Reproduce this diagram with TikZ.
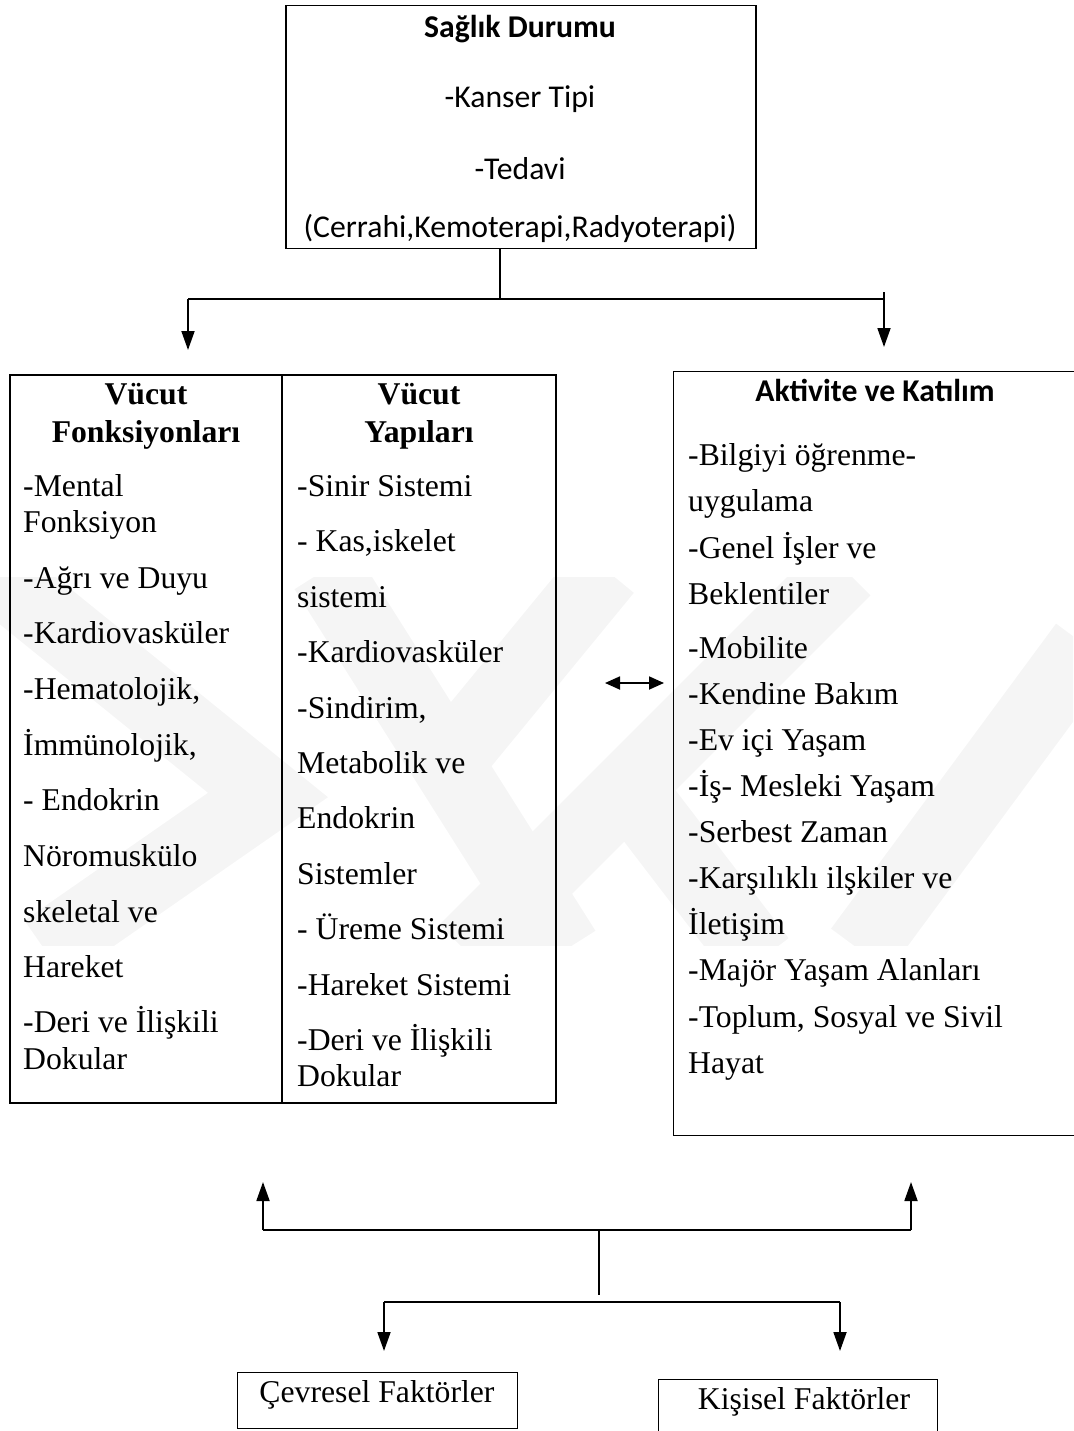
\documentclass[tikz,border=0pt]{standalone}
\usepackage{fontspec}
\setmainfont{Liberation Serif}
\newfontfamily\carlito{Carlito}
\usetikzlibrary{arrows.meta}
\newcommand\tsz{\fontsize{31.7}{36.5}\selectfont}
\tikzset{
  txt/.style={anchor=base west, inner sep=0pt, font=\tsz},
  ctxt/.style={anchor=base, inner sep=0pt, font=\tsz},
  cal/.style={anchor=base, inner sep=0pt, font=\tsz\carlito},
  boxframe/.style={draw, line width=1.5pt, anchor=north west, inner sep=0pt},
  conn/.style={line width=1.8pt},
  tip/.style={-{Triangle[length=19pt,width=13pt]}},
  wm/.style={line width=72pt, draw=black!4, line join=miter, line cap=butt},
}
\begin{document}
\begin{tikzpicture}[x=1pt,y=-1pt]
\useasboundingbox (0,0) rectangle (1073,1431);
% watermark
\begin{scope}
\clip (0,577) rectangle (1073,945);
\draw[wm] (-10,570) -- (268,795) -- (45,950);
\draw[wm] (325,570) -- (565,950);
\draw[wm] (845,570) -- (465,950);
\draw[wm] (606,570) -- (450,760);
\draw[wm] (630,790) -- (760,960);
\draw[wm] (1085,645) -- (860,950);
\end{scope}
% top box
\node[boxframe, minimum width=470pt, minimum height=243pt] (top) at (285,5) {};
\node[cal, font=\tsz\carlito\bfseries] (t1) at (520,38) {Sağlık Durumu};
\node[cal] (t2) at (520,108) {-Kanser Tipi};
\node[cal] (t3) at (520,180) {-Tedavi};
\node[cal] (t4) at (520,238) {(Cerrahi,Kemoterapi,Radyoterapi)};
% left box
\node[boxframe, line width=2.2pt, minimum width=546pt, minimum height=728pt] (lbox) at (9,374) {};
\coordinate (dtop) at (282,374);
\coordinate (dbot) at (282,1102);
\draw[line width=1.8pt] (dtop) -- (dbot);
\node[ctxt, font=\tsz\bfseries] (h1a) at (146,404) {Vücut};
\node[ctxt, font=\tsz\bfseries] (h1b) at (146,442) {Fonksiyonları};
\node[ctxt, font=\tsz\bfseries] (h2a) at (419,404) {Vücut};
\node[ctxt, font=\tsz\bfseries] (h2b) at (419,442) {Yapıları};
\foreach \y/\t [count=\i] in {496/-Mental, 532/Fonksiyon, 588/-Ağrı ve Duyu, 643/-Kardiovasküler,
  {699/-Hematolojik,}, {755/İmmünolojik,}, 810/- Endokrin, 866/Nöromuskülo, 922/skeletal ve,
  977/Hareket, 1032/-Deri ve İlişkili, 1069/Dokular}
  \node[txt] (fa\i) at (23,\y) {\t};
\foreach \y/\t [count=\i] in {496/-Sinir Sistemi, {551/- Kas,iskelet}, 607/sistemi, 662/-Kardiovasküler,
  {718/-Sindirim,}, 773/Metabolik ve, 828/Endokrin, 884/Sistemler, 939/- Üreme Sistemi,
  995/-Hareket Sistemi, 1050/-Deri ve İlişkili, 1086/Dokular}
  \node[txt] (fb\i) at (297,\y) {\t};
% right box
\node[boxframe, line width=1.3pt, minimum width=404pt, minimum height=764pt] (rbox) at (673,371) {};
\node[cal, font=\tsz\carlito\bfseries] (ah) at (875,401) {Aktivite ve Katılım};
\foreach \y/\t [count=\i] in {465/-Bilgiyi öğrenme-, 511/uygulama, 558/-Genel İşler ve, 604/Beklentiler,
  658/-Mobilite, 704/-Kendine Bakım, 750/-Ev içi Yaşam, 796/-İş- Mesleki Yaşam, 842/-Serbest Zaman,
  888/-Karşılıklı ilşkiler ve, 934/İletişim, 980/-Majör Yaşam Alanları, {1027/-Toplum, Sosyal ve Sivil}, 1073/Hayat}
  \node[txt] (ra\i) at (688,\y) {\t};
% double arrow
\coordinate (da1) at (605,683);
\coordinate (da2) at (664,683);
\draw[line width=1.8pt, {Triangle[length=15pt,width=13pt]}-{Triangle[length=15pt,width=13pt]}] (da1) -- (da2);
% top connectors
\coordinate (j0) at (500,299);
\coordinate (jl) at (188,299);
\coordinate (jr) at (884,299);
\coordinate (jrt) at (884,292);
\coordinate (al) at (188,350);
\coordinate (ar) at (884,347);
\draw[conn] (top.south -| j0) -- (j0);
\draw[line width=2.6pt] (jl) -- (jr);
\draw[conn, tip] (jl) -- (al);
\draw[conn, tip] (jrt) -- (ar);
% bottom boxes
\node[boxframe, line width=1.3pt, minimum width=280pt, minimum height=56pt] (cev) at (237,1372) {};
\node[ctxt] (cevt) at (377,1402) {Çevresel Faktörler};
\node[boxframe, line width=1.3pt, minimum width=279pt, minimum height=70pt] (kis) at (658,1379) {};
\node[ctxt] (kist) at (804,1409) {Kişisel Faktörler};
% bottom connectors
\coordinate (bl) at (263,1230);
\coordinate (br) at (911,1230);
\coordinate (bm) at (599,1230);
\coordinate (bmd) at (599,1295);
\coordinate (ul) at (263,1182);
\coordinate (ur) at (911,1182);
\coordinate (cl) at (384,1302);
\coordinate (cr) at (840,1302);
\coordinate (dl) at (384,1351);
\coordinate (dr) at (840,1351);
\draw[line width=2.4pt] (bl) -- (br);
\draw[conn, tip] (bl) -- (ul);
\draw[conn, tip] (br) -- (ur);
\draw[conn] (bm) -- (bmd);
\draw[line width=2.2pt] (cl) -- (cr);
\draw[conn, tip] (cl) -- (dl);
\draw[conn, tip] (cr) -- (dr);
\end{tikzpicture}
\end{document}
